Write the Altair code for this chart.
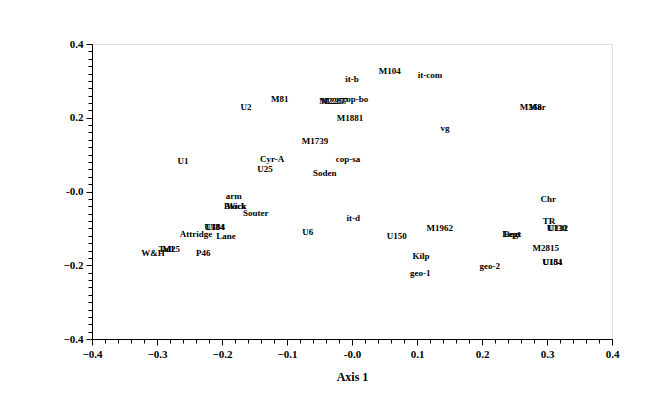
import altair as alt
import pandas as pd

labels = ["U2", "M81", "M2287", "M2257", "cop-bo", "it-b", "M104", "it-com", "M1881",
          "M368", "Mar", "vg", "M1739", "U1", "Cyr-A", "U25", "cop-sa", "Soden",
          "arm", "Black", "Wick", "Souter", "U184", "UI84", "Attridge", "Lane", "U6",
          "Tull", "M25", "W&H", "P46", "it-d", "U150", "M1962", "Kilp", "geo-1", "geo-2",
          "Chr", "TR", "U130", "U132", "Lept", "Begt", "M2815", "U184 ", "U151"]
xs = [-0.163, -0.111, -0.030, -0.027, 0.005, 0.000, 0.058, 0.120, -0.003,
      0.275, 0.285, 0.143, -0.057, -0.260, -0.123, -0.134, -0.006, -0.042,
      -0.182, -0.180, -0.178, -0.148, -0.212, -0.210, -0.240, -0.194, -0.068,
      -0.286, -0.278, -0.306, -0.229, 0.002, 0.069, 0.135, 0.106, 0.105, 0.212,
      0.302, 0.303, 0.315, 0.317, 0.245, 0.247, 0.298, 0.308, 0.309]
ys = [0.230, 0.252, 0.245, 0.245, 0.250, 0.306, 0.328, 0.317, 0.200,
      0.228, 0.228, 0.173, 0.138, 0.084, 0.089, 0.060, 0.089, 0.049,
      -0.011, -0.040, -0.040, -0.057, -0.097, -0.097, -0.114, -0.122, -0.111,
      -0.157, -0.157, -0.168, -0.168, -0.073, -0.122, -0.100, -0.176, -0.222, -0.203,
      -0.019, -0.081, -0.100, -0.100, -0.114, -0.114, -0.154, -0.192, -0.192]

df = pd.DataFrame({"label": labels, "x": xs, "y": ys})

tick_vals = [round(-0.4 + 0.02 * i, 2) for i in range(41)]

font = "Liberation Serif"

def make_axis(title, mult, **kw):
    test = f"abs(datum.value*{mult} - round(datum.value*{mult})) < 0.001"
    label_expr = (f"{test} ? (abs(datum.value) < 0.0001 ? '-0.0' : format(datum.value, '.1f')) : ''")
    return alt.Axis(
        values=tick_vals,
        labelExpr=label_expr,
        tickSize={"condition": {"test": test, "value": 6}, "value": 4},
        grid=False,
        domainColor="black",
        tickColor="black",
        labelColor="black",
        labelFont=font,
        labelFontWeight="bold",
        labelFontSize=11,
        labelOverlap=False,
        labelFlush=False,
        labelPadding=3,
        title=title,
        titleFont=font,
        titleFontWeight="bold",
        titleFontSize=12,
        titleColor="black",
        **kw,
    )

chart = alt.Chart(df).mark_text(
    font=font, fontWeight="bold", fontSize=9, color="black", align="center", baseline="middle"
).encode(
    x=alt.X("x:Q", scale=alt.Scale(domain=[-0.4, 0.4], nice=False, zero=False),
            axis=make_axis("Axis 1", 10, titlePadding=12)),
    y=alt.Y("y:Q", scale=alt.Scale(domain=[-0.4, 0.4], nice=False, zero=False),
            axis=make_axis(None, 5)),
    text="label:N",
).properties(
    width=520, height=295,
    autosize=alt.AutoSizeParams(type="none"),
    padding={"left": 84, "top": 36, "right": 40, "bottom": 50},
).configure_view(stroke=None).configure(background="white")

chart.save("out.html", embed_options={"renderer": "svg", "actions": False})
